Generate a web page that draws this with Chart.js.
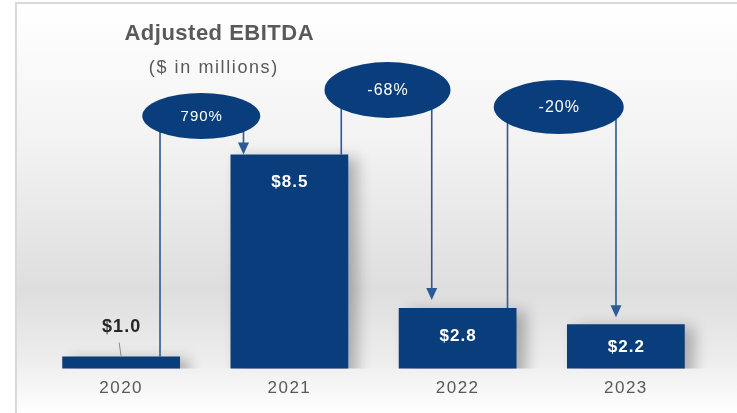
<!DOCTYPE html>
<html>
<head>
<meta charset="utf-8">
<script src="https://cdn.jsdelivr.net/npm/chart.js@4.4.1/dist/chart.umd.min.js"></script>
<style>
  html, body { margin: 0; padding: 0; background: #fff; }
  #wrap { width: 737px; height: 413px; }
</style>
</head>
<body>
<div id="wrap"><canvas id="ebitdaChart" width="737" height="413"></canvas></div>
<script>
const years = ['2020', '2021', '2022', '2023'];
const ebitda = [1.0, 8.5, 2.8, 2.2];
const valueLabels = ['$1.0', '$8.5', '$2.8', '$2.2'];
const changeLabels = ['790%', '-68%', '-20%'];

const NAVY = '#0a3d7c';
const LINE = '#2b5a96';
const TEXT_GRAY = '#595959';
const FONT = "'Liberation Sans', Arial, sans-serif";

// change bubbles: dx from the midpoint of the two bars, cy from the top of the plot,
// connector insets measured from the bar edges
const bubbles = [
    { dx: -4, cy: 96, rx: 59, ry: 23, size: 15, upInset: 20, downInset: 13, gap: 0 },
    { dx: 14, cy: 70, rx: 63, ry: 28, size: 16, upInset: 7, downInset: 33, gap: 8 },
    { dx: 17, cy: 87, rx: 65, ry: 27, size: 16, upInset: 9, downInset: 49, gap: 7 }
];

function spacedText(ctx, text, x, y, spacing) {
    ctx.letterSpacing = spacing + 'px';
    ctx.fillText(text, x + spacing / 2, y);
    ctx.letterSpacing = '0px';
}

const backdrop = {
    id: 'backdrop',
    beforeDraw(chart) {
        const { ctx, width, height } = chart;
        ctx.save();
        ctx.fillStyle = '#ffffff';
        ctx.fillRect(0, 0, width, height);
        const g = ctx.createLinearGradient(0, 4, 0, height);
        g.addColorStop(0, '#ffffff');
        g.addColorStop(0.35, '#f2f2f2');
        g.addColorStop(0.70, '#dedede');
        g.addColorStop(0.86, '#ececec');
        g.addColorStop(1, '#ffffff');
        ctx.fillStyle = g;
        ctx.fillRect(16, 4, width - 16, height - 4);
        // frame
        ctx.strokeStyle = '#d9d9d9';
        ctx.lineWidth = 2;
        ctx.beginPath();
        ctx.moveTo(16, height);
        ctx.lineTo(16, 3);
        ctx.lineTo(width, 3);
        ctx.stroke();
        ctx.restore();
        // wider spacing for the year labels
        ctx.letterSpacing = '1.5px';
    },
    beforeDatasetsDraw(chart) {
        const ctx = chart.ctx;
        ctx.letterSpacing = '0px';
        ctx.save();
        ctx.shadowColor = 'rgba(0,0,0,0.28)';
        ctx.shadowBlur = 14;
        ctx.shadowOffsetX = 9;
        ctx.shadowOffsetY = 3;
    },
    afterDatasetsDraw(chart) {
        chart.ctx.restore();
    }
};

const annotations = {
    id: 'annotations',
    afterDraw(chart) {
        const { ctx, chartArea } = chart;
        const bars = chart.getDatasetMeta(0).data;
        ctx.save();

        // title
        ctx.textAlign = 'center';
        ctx.textBaseline = 'middle';
        ctx.fillStyle = TEXT_GRAY;
        ctx.font = 'bold 22px ' + FONT;
        spacedText(ctx, 'Adjusted EBITDA', 219, 34, 0.5);
        ctx.font = '18px ' + FONT;
        spacedText(ctx, '($ in millions)', 213, 68, 1.6);

        // value labels
        bars.forEach((bar, i) => {
            const h = bar.base - bar.y;
            if (h > 30) {
                ctx.fillStyle = '#ffffff';
                ctx.font = 'bold 17px ' + FONT;
                spacedText(ctx, valueLabels[i], bar.x, bar.y + Math.min(28, h / 2 - 6), 1);
            } else {
                ctx.fillStyle = '#262626';
                ctx.font = 'bold 18px ' + FONT;
                spacedText(ctx, valueLabels[i], bar.x, bar.y - 29, 1);
                ctx.strokeStyle = '#8c8c8c';
                ctx.lineWidth = 1;
                ctx.beginPath();
                ctx.moveTo(bar.x - 2, bar.y - 14);
                ctx.lineTo(bar.x, bar.y);
                ctx.stroke();
            }
        });

        // connectors and change bubbles
        bubbles.forEach((b, i) => {
            const prev = bars[i];
            const next = bars[i + 1];
            const cx = (prev.x + next.x) / 2 + b.dx;
            const cy = chartArea.top + b.cy;
            const upX = prev.x + prev.width / 2 - b.upInset;
            const downX = next.x - next.width / 2 + b.downInset;
            const tipY = next.y - b.gap;

            ctx.strokeStyle = LINE;
            ctx.lineWidth = 1.6;
            ctx.beginPath();
            ctx.moveTo(upX, prev.y);
            ctx.lineTo(upX, cy);
            ctx.moveTo(downX, cy);
            ctx.lineTo(downX, tipY - 11);
            ctx.stroke();

            ctx.fillStyle = LINE;
            ctx.beginPath();
            ctx.moveTo(downX - 5.5, tipY - 12);
            ctx.lineTo(downX + 5.5, tipY - 12);
            ctx.lineTo(downX, tipY);
            ctx.closePath();
            ctx.fill();

            ctx.fillStyle = NAVY;
            ctx.beginPath();
            ctx.ellipse(cx, cy, b.rx, b.ry, 0, 0, Math.PI * 2);
            ctx.fill();

            ctx.fillStyle = '#ffffff';
            ctx.font = b.size + 'px ' + FONT;
            spacedText(ctx, changeLabels[i], cx, cy + 1, 1);
        });

        ctx.restore();
    }
};

new Chart(document.getElementById('ebitdaChart').getContext('2d'), {
    type: 'bar',
    data: {
        labels: years,
        datasets: [{
            data: ebitda,
            backgroundColor: NAVY,
            borderWidth: 0,
            categoryPercentage: 1,
            barPercentage: 0.70
        }]
    },
    options: {
        responsive: false,
        animation: false,
        layout: {
            padding: { left: 37, right: 27, top: 20, bottom: 4 }
        },
        plugins: {
            legend: { display: false },
            tooltip: { enabled: false }
        },
        scales: {
            x: {
                grid: { display: false, drawTicks: false },
                border: { display: false },
                ticks: {
                    color: TEXT_GRAY,
                    font: { family: FONT, size: 17 },
                    padding: 10
                }
            },
            y: {
                display: false,
                min: 0.55,
                max: 13.5
            }
        }
    },
    plugins: [backdrop, annotations]
});
</script>
</body>
</html>
